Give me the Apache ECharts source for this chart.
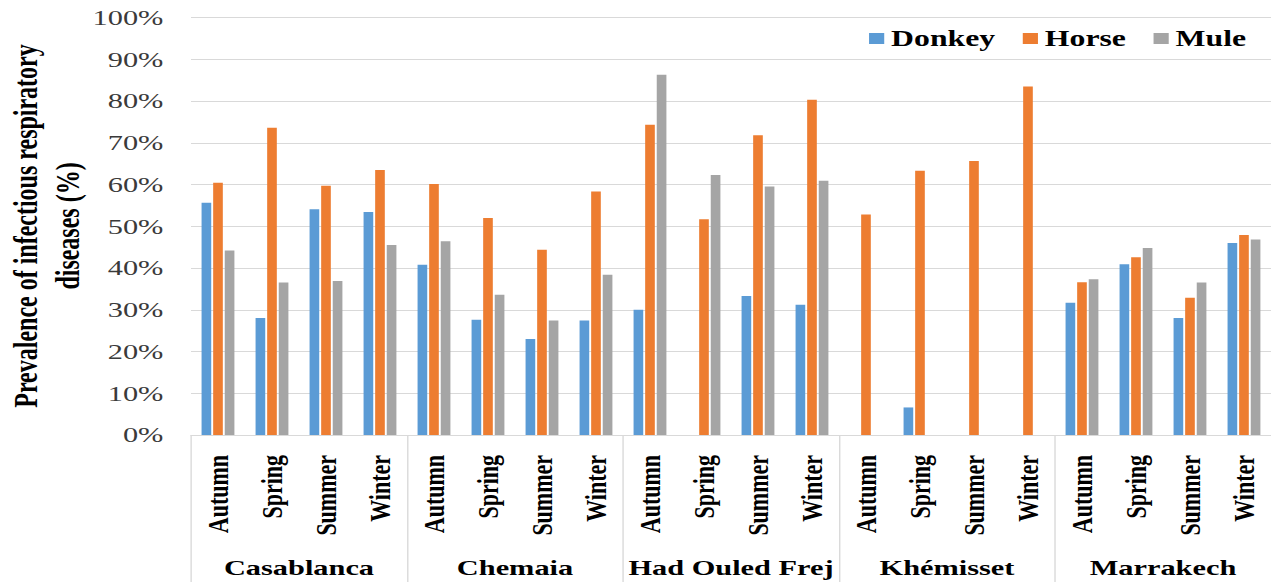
<!DOCTYPE html>
<html>
<head>
<meta charset="utf-8">
<script src="https://cdn.jsdelivr.net/npm/echarts@6/dist/echarts.min.js"></script>
<style>
  html, body { margin: 0; padding: 0; background: #fff; overflow: hidden; }
  /* The chart is laid out narrow and widened horizontally, giving the extended lettering */
  #wrap { width: 1271px; height: 582px; overflow: hidden; }
  #chart { width: 921px; height: 582px; transform: scaleX(1.38); transform-origin: 0 0; }
</style>
</head>
<body>
<div id="wrap"><div id="chart"></div></div>
<script>
// Regions and seasons (two-level category axis)
const cities = ['Casablanca', 'Chemaia', 'Had Ouled Frej', 'Khémisset', 'Marrakech'];
const seasons = ['Autumn', 'Spring', 'Summer', 'Winter'];

// Prevalence (%) per region/season, in the order of the categories below
const donkey = [55.6, 28.0, 54.1, 53.4, 40.8, 27.6, 23.0, 27.4, 30.0, null, 33.3, 31.2, null, 6.6, null, null, 31.7, 40.9, 28.0, 46.0];
const horse  = [60.4, 73.6, 59.7, 63.5, 60.1, 52.0, 44.4, 58.3, 74.3, 51.7, 71.8, 80.3, 52.8, 63.3, 65.6, 83.5, 36.6, 42.6, 32.9, 47.9];
const mule   = [44.2, 36.5, 36.9, 45.5, 46.4, 33.6, 27.4, 38.4, 86.3, 62.3, 59.5, 60.9, null, null, null, null, 37.3, 44.8, 36.5, 46.8];

const yTitle = 'Prevalence of infectious respiratory\ndiseases (%)';

const categories = [];
cities.forEach(() => seasons.forEach(s => categories.push(s)));

const serif = "'Liberation Serif', 'Times New Roman', serif";
const gridColor = '#d9d9d9';

const chart = echarts.init(document.getElementById('chart'), null, { renderer: 'svg' });

const barCommon = { type: 'bar', barWidth: 7, barGap: '20%', xAxisIndex: 0 };

chart.setOption({
  animation: false,
  backgroundColor: '#fff',
  color: ['#5B9BD5', '#ED7D31', '#A5A5A5'],
  legend: {
    top: 22,
    right: 13,
    itemWidth: 11,
    itemHeight: 11,
    itemGap: 20,
    icon: 'rect',
    textStyle: { fontFamily: serif, fontSize: 23, fontWeight: 'bold', color: '#000' },
    data: ['Donkey', 'Horse', 'Mule']
  },
  grid: { left: 138.4, top: 17.5, width: 785.3, height: 417.5 },
  xAxis: [
    {
      type: 'category',
      data: categories,
      position: 'bottom',
      axisLine: { show: true, lineStyle: { color: gridColor, width: 1 } },
      axisTick: { show: false },
      axisLabel: {
        interval: 0,
        rotate: 90,
        margin: 20,
        fontFamily: serif,
        fontSize: 22,
        fontWeight: 'bold',
        color: '#000'
      }
    },
    {
      type: 'category',
      data: cities,
      position: 'bottom',
      axisLine: { show: false },
      axisTick: { show: true, length: 150, interval: 0, lineStyle: { color: gridColor, width: 1 } },
      axisLabel: {
        interval: 0,
        margin: 122,
        fontFamily: serif,
        fontSize: 22,
        fontWeight: 'bold',
        color: '#000'
      }
    }
  ],
  yAxis: {
    type: 'value',
    min: 0,
    max: 100,
    interval: 10,
    axisLine: { show: false },
    axisTick: { show: false },
    splitLine: { lineStyle: { color: gridColor, width: 1 } },
    axisLabel: {
      formatter: '{value}%',
      margin: 20,
      fontFamily: serif,
      fontSize: 22,
      color: '#3a3a3a'
    }
  },
  graphic: [{
    type: 'text',
    x: 33.7,
    y: 226,
    rotation: Math.PI / 2,
    style: {
      text: yTitle,
      x: 0,
      y: 0,
      align: 'center',
      verticalAlign: 'middle',
      font: "bold 24px 'Liberation Serif', 'Times New Roman', serif",
      lineHeight: 31,
      fill: '#000'
    }
  }],
  series: [
    Object.assign({ name: 'Donkey', data: donkey }, barCommon),
    Object.assign({ name: 'Horse', data: horse }, barCommon),
    Object.assign({ name: 'Mule', data: mule }, barCommon)
  ]
});
</script>
</body>
</html>
